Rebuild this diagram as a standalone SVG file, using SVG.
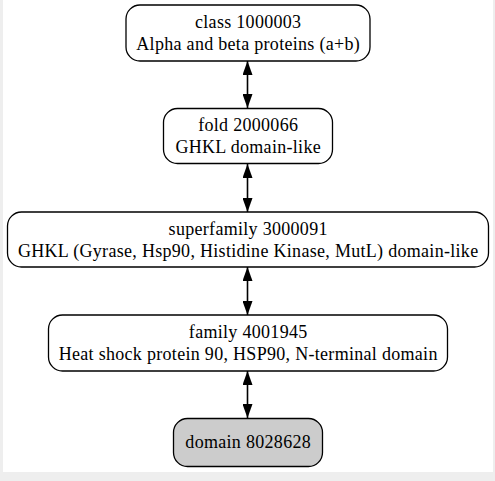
<svg xmlns="http://www.w3.org/2000/svg" width="495" height="481" viewBox="0 0 495 481">
<style>
.bg{fill:#eeeeee}
.node rect{fill:#ffffff;stroke:#000000;stroke-width:1.3}
.node.sel rect{fill:#cccccc}
.node text{font-family:"Liberation Serif","Times New Roman",serif;font-size:18px;letter-spacing:0.3px;fill:#000000;text-anchor:middle}
.edge{stroke:#000000;stroke-width:1.6;fill:none;marker-start:url(#ah);marker-end:url(#ah)}
</style>
<defs>
<marker id="ah" viewBox="0 0 14 10" refX="14" refY="5" markerWidth="14" markerHeight="10" markerUnits="userSpaceOnUse" orient="auto-start-reverse">
<path d="M0,0 L14,5 L0,10 Z" fill="#000000"/>
</marker>
</defs>
<rect class="bg" x="0" y="0" width="495" height="481"/>
<rect x="3" y="0" width="490" height="472" fill="#ffffff"/>
<g id="connectors">
<line class="edge" x1="247.5" y1="61" x2="247.5" y2="108"/>
<line class="edge" x1="247.5" y1="164" x2="247.5" y2="212"/>
<line class="edge" x1="247.5" y1="267" x2="247.5" y2="315"/>
<line class="edge" x1="247.5" y1="371" x2="247.5" y2="418"/>
</g>
<g id="class1000003" class="node">
<rect x="126" y="5" width="244" height="56" rx="14" ry="14"/>
<text x="248.2" y="28">class 1000003</text>
<text x="248.2" y="50">Alpha and beta proteins (a+b)</text>
</g>
<g id="fold2000066" class="node">
<rect x="163.5" y="108.5" width="169" height="55" rx="14" ry="14"/>
<text x="248.2" y="131">fold 2000066</text>
<text x="248.2" y="153">GHKL domain-like</text>
</g>
<g id="superfamily3000091" class="node">
<rect x="7.5" y="212" width="481" height="55" rx="14" ry="14"/>
<text x="248.2" y="234.5">superfamily 3000091</text>
<text x="248.2" y="256.5">GHKL (Gyrase, Hsp90, Histidine Kinase, MutL) domain-like</text>
</g>
<g id="family4001945" class="node">
<rect x="48.5" y="315" width="399" height="56" rx="14" ry="14"/>
<text x="248.2" y="338">family 4001945</text>
<text x="248.2" y="360">Heat shock protein 90, HSP90, N-terminal domain</text>
</g>
<g id="domain8028628" class="node sel">
<rect x="173.5" y="418.5" width="149" height="48" rx="14" ry="14"/>
<text x="248.2" y="448">domain 8028628</text>
</g>
</svg>
